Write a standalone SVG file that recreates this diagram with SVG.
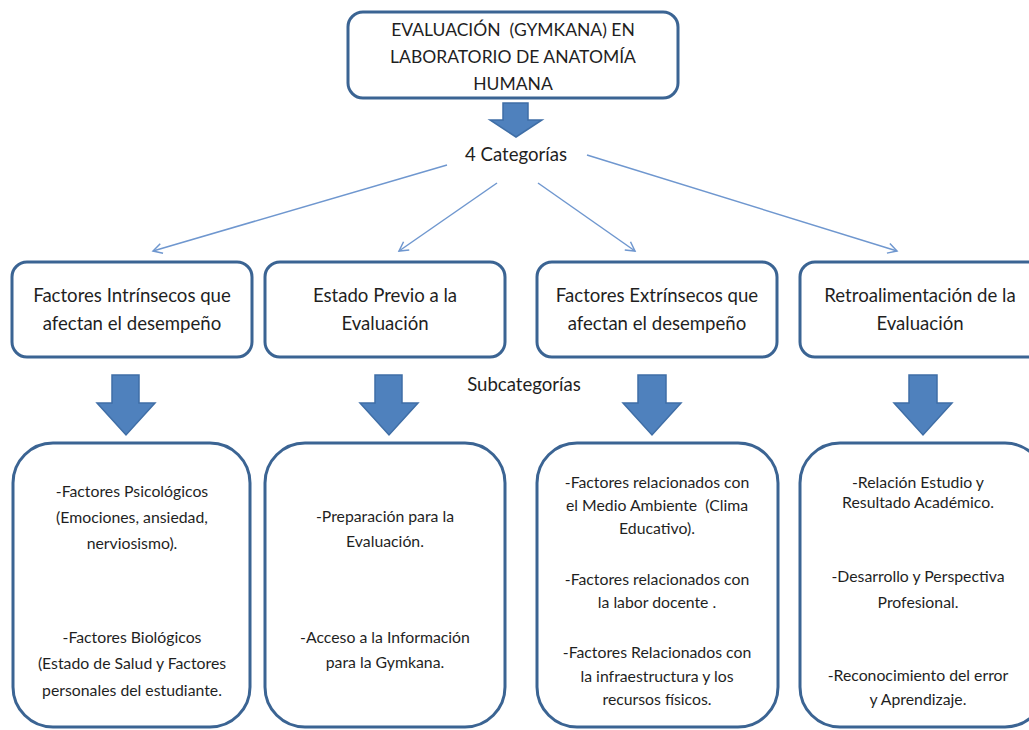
<svg xmlns="http://www.w3.org/2000/svg" width="1029" height="730" viewBox="0 0 1029 730">
<defs>
<style>
.box{fill:#fff;stroke:#3b6493;stroke-width:3}
.t{font-family:Lato,"Liberation Sans",sans-serif;fill:#1f1f1f;text-anchor:middle;white-space:pre}
.h{font-size:17.5px}
.c{font-size:18.6px}
.s{font-size:15.8px}
.conn{stroke:#6f97cf;stroke-width:1.5;fill:none;marker-end:url(#ah)}
.blk{fill:#4f81bd;stroke:#3f6ea6;stroke-width:1.5}
</style>
<marker id="ah" markerWidth="12" markerHeight="12" refX="10" refY="6" orient="auto" markerUnits="userSpaceOnUse">
<path d="M1,1 L10,6 L1,11" fill="none" stroke="#6f97cf" stroke-width="1.5"/>
</marker>
</defs>
<rect width="1029" height="730" fill="#fff"/>

<g id="root">
<rect class="box" x="348" y="12" width="330" height="86" rx="15"/>
<text class="t h" x="513" y="36" xml:space="preserve">EVALUACIÓN  (GYMKANA) EN</text>
<text class="t h" x="513" y="63">LABORATORIO DE ANATOMÍA</text>
<text class="t h" x="513" y="90">HUMANA</text>
</g>

<g id="arrow-top"><path class="blk" d="M503,103 H528 V120 H542 L516,137 L490,120 H503 Z"/></g>

<g id="label-categorias"><text class="t c" x="516" y="161">4 Categorías</text></g>

<g id="connectors">
<line class="conn" x1="447" y1="165" x2="153" y2="251"/>
<line class="conn" x1="497" y1="183" x2="399" y2="251"/>
<line class="conn" x1="538" y1="183" x2="635" y2="251"/>
<line class="conn" x1="587" y1="155" x2="897" y2="251"/>
</g>

<g id="cat1">
<rect class="box" x="12" y="262" width="240" height="95" rx="15"/>
<text class="t c" x="132" y="302">Factores Intrínsecos que</text>
<text class="t c" x="132" y="330">afectan el desempeño</text>
</g>
<g id="cat2">
<rect class="box" x="265" y="262" width="240" height="95" rx="15"/>
<text class="t c" x="385" y="302">Estado Previo a la</text>
<text class="t c" x="385" y="330">Evaluación</text>
</g>
<g id="cat3">
<rect class="box" x="537" y="262" width="240" height="95" rx="15"/>
<text class="t c" x="657" y="302">Factores Extrínsecos que</text>
<text class="t c" x="657" y="330">afectan el desempeño</text>
</g>
<g id="cat4">
<rect class="box" x="800" y="262" width="245" height="95" rx="15"/>
<text class="t c" x="920" y="302">Retroalimentación de la</text>
<text class="t c" x="920" y="330">Evaluación</text>
</g>

<g id="label-subcategorias"><text class="t c" x="524" y="391">Subcategorías</text></g>

<g id="block-arrows">
<path class="blk" d="M112,375 H139 V403 H155 L126,435 L97,403 H112 Z"/>
<path class="blk" d="M375,375 H402 V403 H418 L389,435 L360,403 H375 Z"/>
<path class="blk" d="M638,375 H666 V403 H681 L652,435 L623,403 H638 Z"/>
<path class="blk" d="M909,375 H937 V403 H952 L923,435 L894,403 H909 Z"/>
</g>

<g id="sub1">
<rect class="box" x="13" y="443" width="237" height="284" rx="40"/>
<text class="t s" x="132" y="497">-Factores Psicológicos</text>
<text class="t s" x="132" y="523">(Emociones, ansiedad,</text>
<text class="t s" x="132" y="549">nerviosismo).</text>
<text class="t s" x="132" y="643">-Factores Biológicos</text>
<text class="t s" x="132" y="669">(Estado de Salud y Factores</text>
<text class="t s" x="132" y="696">personales del estudiante.</text>
</g>
<g id="sub2">
<rect class="box" x="265" y="443" width="240" height="284" rx="40"/>
<text class="t s" x="385" y="522">-Preparación para la</text>
<text class="t s" x="385" y="547">Evaluación.</text>
<text class="t s" x="385" y="643">-Acceso a la Información</text>
<text class="t s" x="385" y="668">para la Gymkana.</text>
</g>
<g id="sub3">
<rect class="box" x="537" y="443" width="241" height="284" rx="40"/>
<text class="t s" x="657" y="488">-Factores relacionados con</text>
<text class="t s" x="657" y="511" xml:space="preserve">el Medio Ambiente  (Clima</text>
<text class="t s" x="657" y="534">Educativo).</text>
<text class="t s" x="657" y="585">-Factores relacionados con</text>
<text class="t s" x="657" y="608">la labor docente .</text>
<text class="t s" x="657" y="658">-Factores Relacionados con</text>
<text class="t s" x="657" y="682">la infraestructura y los</text>
<text class="t s" x="657" y="705">recursos físicos.</text>
</g>
<g id="sub4">
<rect class="box" x="800" y="443" width="245" height="284" rx="40"/>
<text class="t s" x="918" y="488">-Relación Estudio y</text>
<text class="t s" x="918" y="508">Resultado Académico.</text>
<text class="t s" x="918" y="582">-Desarrollo y Perspectiva</text>
<text class="t s" x="918" y="608">Profesional.</text>
<text class="t s" x="918" y="681">-Reconocimiento del error</text>
<text class="t s" x="918" y="705">y Aprendizaje.</text>
</g>
</svg>
